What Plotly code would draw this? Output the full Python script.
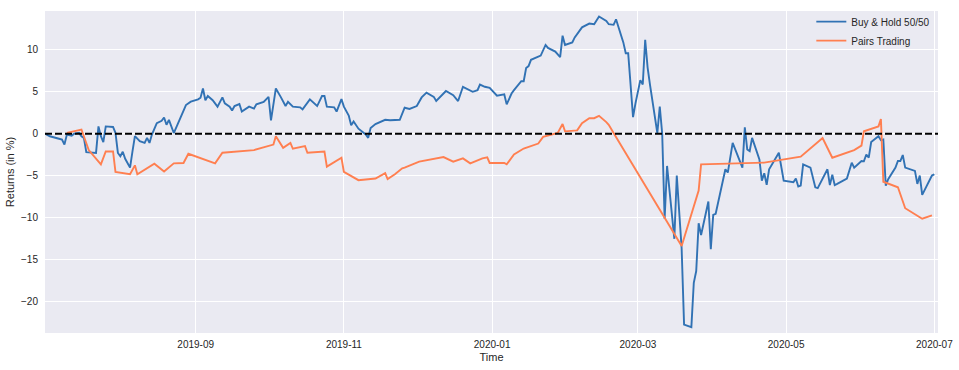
import plotly.graph_objects as go

# ---- data ----
bh_dates = [
    "2019-07-01", "2019-07-03", "2019-07-06", "2019-07-08", "2019-07-09", "2019-07-10", "2019-07-12",
    "2019-07-13", "2019-07-15", "2019-07-16", "2019-07-17", "2019-07-18", "2019-07-22", "2019-07-23",
    "2019-07-24", "2019-07-25", "2019-07-26", "2019-07-29", "2019-07-30", "2019-07-31", "2019-08-01",
    "2019-08-02", "2019-08-03", "2019-08-05", "2019-08-06", "2019-08-07", "2019-08-09", "2019-08-11",
    "2019-08-12", "2019-08-13", "2019-08-14", "2019-08-16", "2019-08-18", "2019-08-19", "2019-08-20",
    "2019-08-21", "2019-08-23", "2019-08-25", "2019-08-27", "2019-08-28", "2019-08-30", "2019-09-02",
    "2019-09-03", "2019-09-04", "2019-09-05", "2019-09-06", "2019-09-08", "2019-09-10", "2019-09-12",
    "2019-09-13", "2019-09-15", "2019-09-16", "2019-09-17", "2019-09-19", "2019-09-20", "2019-09-21",
    "2019-09-23", "2019-09-25", "2019-09-26", "2019-09-29", "2019-10-01", "2019-10-02", "2019-10-04",
    "2019-10-06", "2019-10-08", "2019-10-09", "2019-10-11", "2019-10-14", "2019-10-15", "2019-10-18",
    "2019-10-21", "2019-10-23", "2019-10-24", "2019-10-25", "2019-10-28", "2019-10-29", "2019-10-31",
    "2019-11-01", "2019-11-03", "2019-11-04", "2019-11-05", "2019-11-07", "2019-11-08", "2019-11-10",
    "2019-11-11", "2019-11-12", "2019-11-14", "2019-11-18", "2019-11-20", "2019-11-24", "2019-11-26",
    "2019-11-28", "2019-12-01", "2019-12-03", "2019-12-05", "2019-12-08", "2019-12-09", "2019-12-11",
    "2019-12-13", "2019-12-16", "2019-12-18", "2019-12-20", "2019-12-22", "2019-12-24", "2019-12-26",
    "2019-12-27", "2019-12-29", "2019-12-31", "2020-01-03", "2020-01-06", "2020-01-07", "2020-01-09",
    "2020-01-10", "2020-01-13", "2020-01-14", "2020-01-15", "2020-01-16", "2020-01-17", "2020-01-21",
    "2020-01-23", "2020-01-24", "2020-01-27", "2020-01-29", "2020-01-30", "2020-01-31", "2020-02-03",
    "2020-02-04", "2020-02-05", "2020-02-07", "2020-02-10", "2020-02-12", "2020-02-14", "2020-02-17",
    "2020-02-18", "2020-02-20", "2020-02-21", "2020-02-24", "2020-02-25", "2020-02-26", "2020-02-28",
    "2020-02-29", "2020-03-02", "2020-03-03", "2020-03-04", "2020-03-05", "2020-03-06", "2020-03-09",
    "2020-03-10", "2020-03-11", "2020-03-12", "2020-03-13", "2020-03-16", "2020-03-17", "2020-03-19",
    "2020-03-20", "2020-03-23", "2020-03-24", "2020-03-25", "2020-03-26", "2020-03-27", "2020-03-30",
    "2020-03-31", "2020-04-01", "2020-04-02", "2020-04-06", "2020-04-07", "2020-04-09", "2020-04-13",
    "2020-04-14", "2020-04-15", "2020-04-16", "2020-04-17", "2020-04-20", "2020-04-21", "2020-04-22",
    "2020-04-23", "2020-04-24", "2020-04-28", "2020-04-29", "2020-04-30", "2020-05-04", "2020-05-05",
    "2020-05-06", "2020-05-07", "2020-05-08", "2020-05-11", "2020-05-13", "2020-05-14", "2020-05-18",
    "2020-05-19", "2020-05-20", "2020-05-21", "2020-05-22", "2020-05-26", "2020-05-28", "2020-05-29",
    "2020-06-01", "2020-06-02", "2020-06-03", "2020-06-04", "2020-06-05", "2020-06-08", "2020-06-09",
    "2020-06-10", "2020-06-11", "2020-06-12", "2020-06-15", "2020-06-16", "2020-06-17", "2020-06-18",
    "2020-06-19", "2020-06-23", "2020-06-24", "2020-06-25", "2020-06-26", "2020-06-30", "2020-07-01",
]
bh_values = [
    0.0, -0.31, -0.55, -0.7, -1.3, -0.1, -0.23,
    0.0, 0.1, -0.3, -0.5, -2.2, -2.3, 0.87,
    -0.3, -1.0, 0.87, 0.8, 0.1, -2.3, -2.7,
    -2.15, -3.0, -4.05, -2.1, -0.3, -0.9, -1.1,
    -0.5, -1.1, -0.1, 1.26, 1.54, 1.93, 1.06,
    1.65, 0.08, 1.46, 2.83, 3.42, 3.82, 4.1,
    4.3, 5.4, 4.0, 4.5, 4.0, 3.23, 4.33,
    3.62, 3.23, 2.76, 3.3, 3.54, 2.64, 2.83,
    3.23, 3.0, 3.5, 3.8, 4.4, 1.58, 5.4,
    4.4, 3.3, 3.8, 3.23, 3.15, 2.9, 4.1,
    3.3, 4.5, 4.5, 3.23, 3.15, 2.64, 4.13,
    3.23, 2.17, 1.0, 1.46, 0.6, 0.36, -0.1,
    -0.5, 0.67, 1.15, 1.66, 1.6, 1.66, 3.1,
    2.95, 3.3, 4.33, 4.9, 4.4, 3.9, 4.5,
    5.1, 4.6, 3.9, 5.6, 5.28, 5.0, 5.2,
    5.87, 5.6, 5.48, 4.53, 4.69, 3.5, 4.8,
    5.2, 6.26, 6.26, 7.84, 8.07, 8.82, 9.33,
    10.6, 10.24, 9.8, 9.14, 11.7, 10.6, 10.9,
    11.5, 11.9, 12.7, 13.15, 13.07, 14.0, 13.46,
    13.07, 13.0, 13.66, 10.9, 9.6, 9.6, 1.97,
    3.62, 6.4, 5.87, 11.2, 7.9, 5.8, 0.08,
    3.25, 0.0, -10.15, -3.85, -12.55, -5.0, -13.7,
    -22.8, -23.1, -17.8, -16.4, -10.7, -12.1, -8.1,
    -13.8, -9.7, -9.56, -4.25, -4.64, -1.1, -4.05,
    0.76, -1.89, -2.08, -0.5, -3.07, -5.6, -4.72,
    -6.1, -4.25, -2.28, -3.85, -5.6, -5.8, -5.35,
    -6.3, -6.2, -3.66, -4.05, -6.4, -6.5, -4.25,
    -6.14, -4.9, -6.14, -6.0, -5.35, -3.46, -4.05,
    -3.26, -3.3, -2.48, -2.87, -1.0, -0.3, -0.78,
    -0.7, -6.2, -5.43, -4.05, -3.26, -3.26, -2.55,
    -4.05, -4.44, -6.0, -5.0, -7.3, -5.0, -4.84,
]

pt_dates = [
    "2019-07-10", "2019-07-11", "2019-07-16", "2019-07-19", "2019-07-24", "2019-07-26", "2019-07-29",
    "2019-07-30", "2019-08-05", "2019-08-07", "2019-08-08", "2019-08-15", "2019-08-19", "2019-08-23",
    "2019-08-27", "2019-08-29", "2019-09-09", "2019-09-12", "2019-09-25", "2019-10-03", "2019-10-04",
    "2019-10-07", "2019-10-10", "2019-10-11", "2019-10-16", "2019-10-17", "2019-10-24", "2019-10-25",
    "2019-10-31", "2019-11-01", "2019-11-07", "2019-11-14", "2019-11-18", "2019-11-19", "2019-11-22",
    "2019-11-25", "2019-11-26", "2019-12-02", "2019-12-12", "2019-12-16", "2019-12-20", "2019-12-23",
    "2019-12-28", "2019-12-30", "2019-12-31", "2020-01-06", "2020-01-07", "2020-01-10", "2020-01-14",
    "2020-01-20", "2020-01-22", "2020-01-28", "2020-01-30", "2020-01-31", "2020-02-05", "2020-02-07",
    "2020-02-10", "2020-02-12", "2020-02-14", "2020-02-17", "2020-02-18", "2020-02-20", "2020-03-12",
    "2020-03-19", "2020-03-26", "2020-03-27", "2020-04-22", "2020-05-07", "2020-05-16", "2020-05-20",
    "2020-05-29", "2020-06-01", "2020-06-02", "2020-06-08", "2020-06-09", "2020-06-10", "2020-06-16",
    "2020-06-19", "2020-06-26", "2020-06-30",
]
pt_values = [
    0.1, 0.17, 0.5, -1.96, -3.66, -2.12, -2.12,
    -4.56, -4.84, -3.78, -4.84, -3.58, -4.52, -3.54,
    -3.5, -2.4, -3.54, -2.28, -1.96, -1.3, -0.3,
    -1.69, -1.1, -1.8, -1.49, -2.28, -2.12, -3.93,
    -2.87, -4.56, -5.55, -5.35, -4.72, -5.43, -4.84,
    -4.13, -4.05, -3.34, -2.79, -3.34, -2.95, -3.54,
    -2.95, -2.83, -3.5, -3.5, -3.66, -2.48, -1.77,
    -1.18, -0.39, 0.08, 1.15, 0.28, 0.4, 1.26,
    1.85, 1.85, 2.13, 1.38, 1.06, 0.08, -10.07,
    -13.4, -6.8, -3.66, -3.46, -2.75, -0.51, -2.87,
    -1.96, -1.42, 0.28, 0.87, 1.74, -5.74, -6.4,
    -8.9, -10.15, -9.75,
]

series_names = ["Buy & Hold 50/50", "Pairs Trading"]
y_tick_values = [-20, -15, -10, -5, 0, 5, 10]
x_tick_values = ["2019-09-01", "2019-11-01", "2020-01-01", "2020-03-01", "2020-05-01", "2020-07-01"]
x_tick_labels = ["2019-09", "2019-11", "2020-01", "2020-03", "2020-05", "2020-07"]
x_range = ["2019-07-01", "2020-07-02 12:00"]
y_range = [-23.8, 14.65]

FONT = "Liberation Sans, Arial, sans-serif"

fig = go.Figure()
fig.add_trace(go.Scatter(x=bh_dates, y=bh_values, mode="lines", name=series_names[0],
                         line=dict(color="#3172b4", width=1.9)))
fig.add_trace(go.Scatter(x=pt_dates, y=pt_values, mode="lines", name=series_names[1],
                         line=dict(color="#ff7f50", width=1.9)))

fig.add_shape(type="line", xref="paper", yref="y", x0=0, x1=1, y0=0, y1=0,
              line=dict(color="black", width=2, dash="7px,3px"), layer="above")

fig.update_layout(
    width=959, height=370,
    margin=dict(l=45, r=21, t=7, b=37),
    paper_bgcolor="white",
    plot_bgcolor="#eaeaf2",
    font=dict(family=FONT, size=10, color="#262626"),
    showlegend=True,
    legend=dict(x=0.997, y=1.012, xanchor="right", yanchor="top",
                bgcolor="rgba(0,0,0,0)", font=dict(size=10, color="#262626"),
                tracegroupgap=0, itemwidth=30),
    xaxis=dict(
        range=x_range, type="date",
        tickvals=x_tick_values, ticktext=x_tick_labels,
        showgrid=True, gridcolor="white", gridwidth=1,
        zeroline=False, showline=False, ticks="",
        ticklabelstandoff=4, automargin=False,
        title=dict(text="Time", font=dict(size=11), standoff=4),
    ),
    yaxis=dict(
        range=y_range, tickvals=y_tick_values,
        showgrid=True, gridcolor="white", gridwidth=1,
        zeroline=False, showline=False, ticks="",
        ticklabelstandoff=6, automargin=False,
        title=dict(text="Returns (in %)", font=dict(size=11), standoff=4),
    ),
)

fig.write_html("out.html", config={"displayModeBar": False},
               post_script="document.body.style.margin='0';")
